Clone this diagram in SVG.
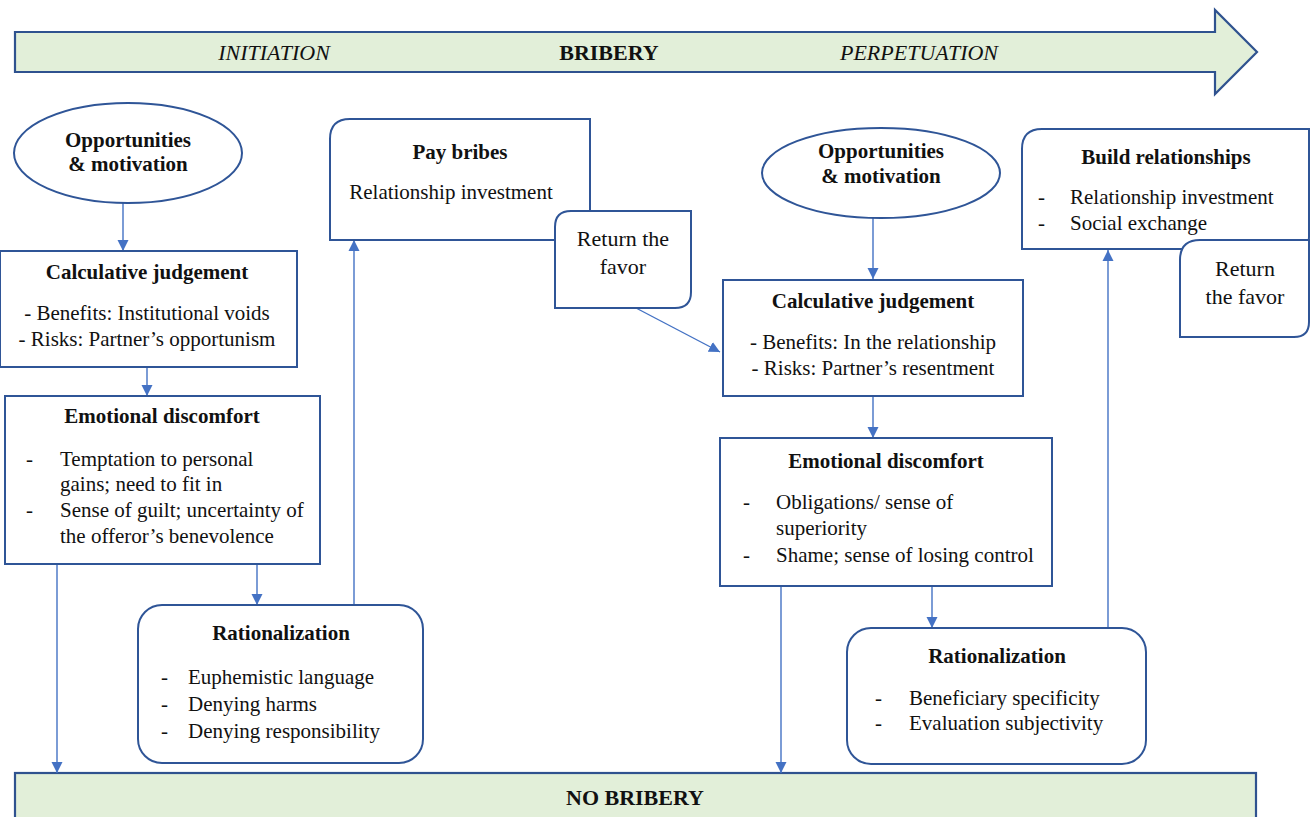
<svg xmlns="http://www.w3.org/2000/svg" width="1311" height="817" viewBox="0 0 1311 817">
<style>
.box{fill:#fff;stroke:#2f5597;stroke-width:2}
.band{fill:#e2efd9;stroke:#2f528f;stroke-width:2.2}
.t{font-family:"Liberation Serif","Times New Roman",serif;font-size:21px;fill:#111}
.c{text-anchor:middle}
.b{font-weight:bold}
.i{font-style:italic}
.big{font-size:22px}
.con{stroke:#4472c4;stroke-width:1.4;fill:none;marker-end:url(#ah)}
</style>
<defs>
<marker id="ah" markerUnits="userSpaceOnUse" markerWidth="12" markerHeight="12" viewBox="0 0 12 12" refX="11" refY="6" orient="auto">
<path d="M0,0.5 L11,6 L0,11.5 Z" fill="#4472c4"/>
</marker>
</defs>
<rect width="1311" height="817" fill="#fff"/>

<g id="timeline">
<polygon class="band" points="15,32 1215,32 1215,10 1257,52 1215,94 1215,72 15,72"/>
<text class="t i c big" x="274" y="60">INITIATION</text>
<text class="t b c big" x="609" y="60">BRIBERY</text>
<text class="t i c big" x="919" y="60">PERPETUATION</text>
</g>

<g id="no-bribery">
<rect class="band" x="15" y="773" width="1241" height="60"/>
<text class="t b c big" x="635" y="805">NO BRIBERY</text>
</g>

<g id="connectors">
<line class="con" x1="123" y1="203" x2="123" y2="251"/>
<line class="con" x1="147" y1="367" x2="147" y2="396"/>
<line class="con" x1="257" y1="564" x2="257" y2="605"/>
<line class="con" x1="57" y1="564" x2="57" y2="773"/>
<line class="con" x1="354" y1="605" x2="354" y2="240"/>
<line class="con" x1="636" y1="308" x2="720" y2="352"/>
<line class="con" x1="873" y1="218" x2="873" y2="279"/>
<line class="con" x1="873" y1="396" x2="873" y2="438"/>
<line class="con" x1="932" y1="586" x2="932" y2="628"/>
<line class="con" x1="781" y1="586" x2="781" y2="773"/>
<line class="con" x1="1108" y1="628" x2="1108" y2="250"/>
</g>

<g id="opp-left">
<ellipse class="box" cx="128" cy="153" rx="114" ry="50"/>
<text class="t b c" x="128" y="147">Opportunities</text>
<text class="t b c" x="128" y="171">&amp; motivation</text>
</g>

<g id="calc-left">
<rect class="box" x="0" y="251" width="297" height="116"/>
<text class="t b c" x="147" y="279">Calculative judgement</text>
<text class="t c" x="147" y="320">- Benefits: Institutional voids</text>
<text class="t c" x="147" y="346">- Risks: Partner’s opportunism</text>
</g>

<g id="emo-left">
<rect class="box" x="5" y="396" width="315" height="168"/>
<text class="t b c" x="162" y="423">Emotional discomfort</text>
<text class="t" x="26" y="466">-</text>
<text class="t" x="60" y="466">Temptation to personal</text>
<text class="t" x="60" y="491">gains; need to fit in</text>
<text class="t" x="26" y="517">-</text>
<text class="t" x="60" y="517">Sense of guilt; uncertainty of</text>
<text class="t" x="60" y="543">the offeror’s benevolence</text>
</g>

<g id="rat-left">
<rect class="box" x="138" y="605" width="285" height="158" rx="24"/>
<text class="t b c" x="281" y="640">Rationalization</text>
<text class="t" x="161" y="684">-</text>
<text class="t" x="188" y="684">Euphemistic language</text>
<text class="t" x="161" y="711">-</text>
<text class="t" x="188" y="711">Denying harms</text>
<text class="t" x="161" y="738">-</text>
<text class="t" x="188" y="738">Denying responsibility</text>
</g>

<g id="pay-bribes">
<path class="box" d="M330,240 L330,139 Q330,119 350,119 L590,119 L590,240 Z"/>
<text class="t b c" x="460" y="159">Pay bribes</text>
<text class="t c" x="451" y="199">Relationship investment</text>
</g>

<g id="return-left">
<path class="box" d="M555,308 L555,227 Q555,211 571,211 L691,211 L691,292 Q691,308 675,308 Z"/>
<text class="t c big" x="623" y="246">Return the</text>
<text class="t c big" x="623" y="274">favor</text>
</g>

<g id="opp-right">
<ellipse class="box" cx="881" cy="173" rx="119" ry="45"/>
<text class="t b c" x="881" y="158">Opportunities</text>
<text class="t b c" x="881" y="183">&amp; motivation</text>
</g>

<g id="build">
<path class="box" d="M1022,249 L1022,149 Q1022,129 1042,129 L1309,129 L1309,237 Q1309,249 1297,249 Z"/>
<text class="t b c" x="1166" y="164">Build relationships</text>
<text class="t" x="1038" y="204">-</text>
<text class="t" x="1070" y="204">Relationship investment</text>
<text class="t" x="1038" y="230">-</text>
<text class="t" x="1070" y="230">Social exchange</text>
</g>

<g id="return-right">
<path class="box" d="M1180,337 L1180,260 Q1180,240 1200,240 L1309,240 L1309,322 Q1309,337 1294,337 Z"/>
<text class="t c big" x="1245" y="276">Return</text>
<text class="t c big" x="1245" y="304">the favor</text>
</g>

<g id="calc-right">
<rect class="box" x="723" y="280" width="300" height="116"/>
<text class="t b c" x="873" y="308">Calculative judgement</text>
<text class="t c" x="873" y="349">- Benefits: In the relationship</text>
<text class="t c" x="873" y="375">- Risks: Partner’s resentment</text>
</g>

<g id="emo-right">
<rect class="box" x="720" y="438" width="332" height="148"/>
<text class="t b c" x="886" y="468">Emotional discomfort</text>
<text class="t" x="743" y="509">-</text>
<text class="t" x="776" y="509">Obligations/ sense of</text>
<text class="t" x="776" y="535">superiority</text>
<text class="t" x="743" y="562">-</text>
<text class="t" x="776" y="562">Shame; sense of losing control</text>
</g>

<g id="rat-right">
<rect class="box" x="847" y="628" width="299" height="136" rx="24"/>
<text class="t b c" x="997" y="663">Rationalization</text>
<text class="t" x="875" y="705">-</text>
<text class="t" x="909" y="705">Beneficiary specificity</text>
<text class="t" x="875" y="730">-</text>
<text class="t" x="909" y="730">Evaluation subjectivity</text>
</g>
</svg>
